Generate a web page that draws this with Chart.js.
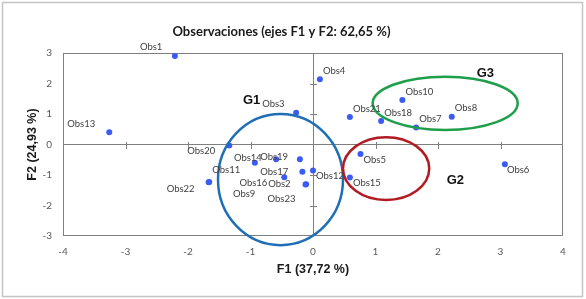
<!DOCTYPE html>
<html><head><meta charset="utf-8">
<script src="https://cdn.jsdelivr.net/npm/chart.js@4.4.0/dist/chart.umd.min.js"></script>
<style>
html,body{margin:0;padding:0;background:#fff;}
canvas{display:block}
</style></head><body>
<canvas id="c" width="586" height="299"></canvas>
<script>
// ---- data ----
const obsNames = ['Obs1','Obs2','Obs3','Obs4','Obs5','Obs6','Obs7','Obs8','Obs9','Obs10','Obs11','Obs12','Obs13','Obs14','Obs15','Obs16','Obs17','Obs18','Obs19','Obs20','Obs21','Obs22','Obs23'];
const f1Values = [-2.21,-0.11,-0.27,0.11,0.76,3.07,1.65,2.22,-0.21,1.43,-1.66,0.00,-3.26,-0.93,0.59,-0.17,-0.46,1.09,-0.59,-1.34,0.59,-1.67,-0.12];
const f2Values = [2.90,-1.30,1.04,2.14,-0.31,-0.65,0.56,0.91,-0.48,1.46,-1.23,-0.85,0.40,-0.60,-1.08,-0.89,-1.07,0.77,-0.48,-0.03,0.90,-1.24,-1.31];
const xTickValues = [-4,-3,-2,-1,0,1,2,3,4];
const yTickValues = [-3,-2,-1,0,1,2,3];
const groupNames = ['G1','G2','G3'];
const groupCenterF1 = [-0.52, 1.17, 2.115];
const groupCenterF2 = [-1.15, -0.79, 1.35];
const groupRadiusF1 = [1.00, 0.69, 1.16];
const groupRadiusF2 = [2.15, 1.03, 0.875];
const chartTitle = 'Observaciones (ejes F1 y F2: 62,65 %)';
const xTitle = 'F1 (37,72 %)';
const yTitle = 'F2 (24,93 %)';

// ---- styles ----
const style = {
  point: '#3b5cf2',
  axis: '#7f7f7f',
  tickText: '#595959',
  labelText: '#404040',
  groupColors: ['#1f6fb6', '#b31b23', '#1f9e4b'],
  // group text anchor (data units)
  groupTextPos: [[-1.12, 1.44], [2.14, -1.19], [2.62, 2.33]],
  // label offsets in px relative to point: [dx to left edge, dy to text middle]
  labelOffsets: [[-35,-9],[-38,0],[-34,-8.5],[3,-8],[3,6],[2,6],[3,-8],[3,-8.5],[-67,35],[3,-8],[3,-12.5],[3,6],[-42,-8.5],[-21,-5],[3,5],[-63,11],[-24,-5],[3,-8],[-16,-2.5],[-42,5.5],[3,-8],[-42,6.5],[-38,14]]
};

const framePlugin = {
  id: 'frame',
  beforeDraw(chart) {
    const ctx = chart.ctx;
    ctx.save();
    ctx.fillStyle = '#fff';
    ctx.fillRect(0, 0, chart.width, chart.height);
    ctx.strokeStyle = '#c4c4c4';
    ctx.lineWidth = 1.5;
    ctx.strokeRect(2.5, 2.5, 580, 294);
    ctx.restore();
  },
  beforeDatasetsDraw(chart) {
    const ctx = chart.ctx, a = chart.chartArea;
    const xs = chart.scales.x, ys = chart.scales.y;
    ctx.save();
    ctx.strokeStyle = style.axis;
    ctx.lineWidth = 1;
    ctx.strokeRect(Math.round(a.left) + 0.5, Math.round(a.top) + 0.5, Math.round(a.right - a.left) - 1, Math.round(a.bottom - a.top) - 1);
    const zx = Math.round(xs.getPixelForValue(0)) + 0.5;
    const zy = Math.round(ys.getPixelForValue(0)) + 0.5;
    ctx.beginPath();
    xTickValues.forEach(v => {
      if (v === 0 || v === xs.min || v === xs.max) return;
      const p = Math.round(xs.getPixelForValue(v)) + 0.5;
      ctx.moveTo(p, zy - 3.5); ctx.lineTo(p, zy + 3.5);
    });
    yTickValues.forEach(v => {
      if (v === 0 || v === ys.min || v === ys.max) return;
      const p = Math.round(ys.getPixelForValue(v)) + 0.5;
      ctx.moveTo(zx - 3.5, p); ctx.lineTo(zx + 3.5, p);
    });
    ctx.stroke();
    ctx.restore();
  },
  afterDatasetsDraw(chart) {
    const ctx = chart.ctx;
    const xs = chart.scales.x, ys = chart.scales.y;
    ctx.save();
    // ellipses
    groupNames.forEach((g, i) => {
      const cx = xs.getPixelForValue(groupCenterF1[i]);
      const cy = ys.getPixelForValue(groupCenterF2[i]);
      const rx = Math.abs(xs.getPixelForValue(groupCenterF1[i] + groupRadiusF1[i]) - cx);
      const ry = Math.abs(ys.getPixelForValue(groupCenterF2[i] + groupRadiusF2[i]) - cy);
      ctx.beginPath();
      ctx.ellipse(cx, cy, rx, ry, 0, 0, Math.PI * 2);
      ctx.strokeStyle = style.groupColors[i];
      ctx.lineWidth = 2.5;
      ctx.stroke();
      ctx.fillStyle = '#111';
      ctx.font = 'bold 13px "Liberation Sans", Arial, sans-serif';
      ctx.textAlign = 'left';
      ctx.textBaseline = 'middle';
      ctx.fillText(g, xs.getPixelForValue(style.groupTextPos[i][0]), ys.getPixelForValue(style.groupTextPos[i][1]));
    });
    // point labels
    ctx.font = '9.5px Lato, sans-serif';
    ctx.fillStyle = style.labelText;
    ctx.textAlign = 'left';
    ctx.textBaseline = 'middle';
    obsNames.forEach((n, i) => {
      const px = xs.getPixelForValue(f1Values[i]);
      const py = ys.getPixelForValue(f2Values[i]);
      ctx.fillText(n, px + style.labelOffsets[i][0], py + style.labelOffsets[i][1]);
    });
    ctx.restore();
  }
};

new Chart(document.getElementById('c'), {
  type: 'scatter',
  data: {
    datasets: [{
      data: obsNames.map((n, i) => ({ x: f1Values[i], y: f2Values[i] })),
      pointRadius: 3,
      pointHoverRadius: 3,
      backgroundColor: style.point,
      borderWidth: 0
    }]
  },
  options: {
    responsive: false,
    animation: false,
    devicePixelRatio: 1,
    layout: { padding: { left: 0, right: 23, top: 0, bottom: 0 } },
    plugins: {
      legend: { display: false },
      tooltip: { enabled: false },
      title: {
        display: true,
        text: chartTitle,
        color: '#1a1a1a',
        font: { family: 'Lato', weight: 'bold', size: 13, lineHeight: 1.2 },
        padding: { top: 24, bottom: 13.4 }
      }
    },
    scales: {
      x: {
        type: 'linear', min: -4, max: 4, position: 'bottom',
        afterBuildTicks(s) { s.ticks = xTickValues.map(v => ({ value: v })); },
        afterFit(s) { s.height = 63; },
        ticks: { padding: 10, color: style.tickText, font: { family: 'Lato', size: 10 } },
        grid: { drawTicks: false, color: c => (c.tick && c.tick.value === 0) ? style.axis : 'rgba(0,0,0,0)' },
        border: { display: false },
        title: { display: true, text: xTitle, color: '#1a1a1a', font: { family: 'Liberation Sans', weight: 'bold', size: 12.5, lineHeight: 1.2 }, padding: { top: 0, bottom: 21.5 } }
      },
      y: {
        type: 'linear', min: -3, max: 3, position: 'left',
        afterBuildTicks(s) { s.ticks = yTickValues.map(v => ({ value: v })); },
        afterFit(s) { s.width = 63; },
        ticks: { padding: 11, color: style.tickText, font: { family: 'Lato', size: 10 } },
        grid: { drawTicks: false, color: c => (c.tick && c.tick.value === 0) ? style.axis : 'rgba(0,0,0,0)' },
        border: { display: false },
        title: { display: true, text: yTitle, color: '#1a1a1a', font: { family: 'Liberation Sans', weight: 'bold', size: 12.5, lineHeight: 1.2 }, padding: { top: 25.5, bottom: 0 } }
      }
    }
  },
  plugins: [framePlugin]
});
</script>
</body></html>
